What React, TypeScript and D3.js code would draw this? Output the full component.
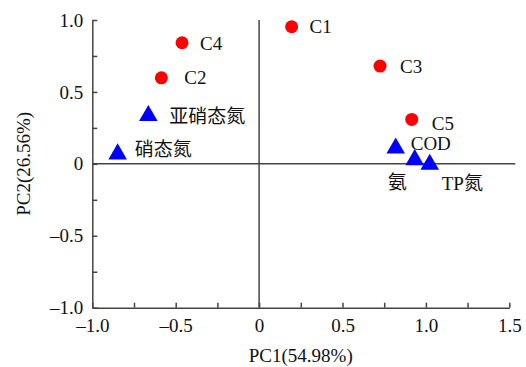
import React, { useEffect, useRef } from "react";
import * as d3 from "d3";

// sample scores (red circles)
const sampleNames = ["C1", "C2", "C3", "C4", "C5"];
const sampleX = [0.195, -0.586, 0.725, -0.462, 0.915];
const sampleY = [0.953, 0.598, 0.68, 0.842, 0.309];

// variable loadings (blue triangles)
const varNames = ["亚硝态氮", "硝态氮", "COD", "氨", "TP氮"];
const varX = [-0.664, -0.848, 0.819, 0.933, 1.023];
const varY = [0.335, 0.068, 0.109, 0.028, -0.004];

const xTicks = [-1, -0.75, -0.5, -0.25, 0, 0.25, 0.5, 0.75, 1, 1.25, 1.5];
const yTicks = [-1, -0.75, -0.5, -0.25, 0, 0.25, 0.5, 0.75, 1];
const xTitle = "PC1(54.98%)";
const yTitle = "PC2(26.56%)";

// label offsets in px from the marker centre
const sampleLabelOffset: Record<string, [number, number]> = {
  C1: [18, 6],
  C2: [23, 6],
  C3: [20, 7],
  C4: [18, 7],
  C5: [20, 11],
};
const varLabelOffset: Record<string, [number, number]> = {
  亚硝态氮: [21, 7],
  硝态氮: [17, 2],
  COD: [15, 2],
  氨: [-27, 29],
  TP氮: [12, 26],
};

const W = 526;
const H = 367;
const margin = { top: 20, right: 16.7, bottom: 59.3, left: 92.3 };
const FONT = "Liberation Serif, Noto Sans CJK SC, serif";
const AXIS = "#444";

function fmt(v: number) {
  if (Math.abs(v * 2 - Math.round(v * 2)) > 1e-9) return "";
  if (v === 0) return "0";
  return (v < 0 ? "–" : "") + Math.abs(v).toFixed(1);
}

export default function App() {
  const xRef = useRef<SVGGElement>(null);
  const yRef = useRef<SVGGElement>(null);

  const iw = W - margin.left - margin.right;
  const ih = H - margin.top - margin.bottom;
  const x = d3.scaleLinear().domain([-1, 1.5]).range([0, iw]);
  const y = d3.scaleLinear().domain([-1, 1]).range([ih, 0]);

  useEffect(() => {
    const xa = d3.axisBottom(x).tickValues(xTicks).tickFormat((d) => fmt(+d))
      .tickSizeInner(-5).tickSizeOuter(0).tickPadding(11);
    const ya = d3.axisLeft(y).tickValues(yTicks).tickFormat((d) => fmt(+d))
      .tickSizeInner(-5).tickSizeOuter(0).tickPadding(9);
    for (const [ref, ax] of [[xRef, xa], [yRef, ya]] as const) {
      const g = d3.select(ref.current!);
      g.call(ax as any);
      g.selectAll("path, line").attr("stroke", AXIS).attr("stroke-width", 1.5);
      g.selectAll("text").attr("font-size", 19).attr("font-family", FONT).attr("fill", "#111");
    }
  }, []);

  const tri = d3.symbol().type(d3.symbolTriangle).size(150)();

  return (
    <svg width={W} height={H} style={{ position: "absolute", left: 0, top: 0, background: "#fff" }}>
      <g transform={`translate(${margin.left},${margin.top})`} style={{ fontFamily: FONT, fontSize: 19 }}>
        {/* zero lines */}
        <line x1={0} x2={iw + 6} y1={y(0)} y2={y(0)} stroke={AXIS} strokeWidth={1.5} />
        <line x1={x(0)} x2={x(0)} y1={0} y2={ih} stroke={AXIS} strokeWidth={1.5} />
        <g ref={xRef} transform={`translate(0,${ih})`} />
        <g ref={yRef} />

        {sampleNames.map((n, i) => (
          <g key={n}>
            <circle cx={x(sampleX[i])} cy={y(sampleY[i])} r={6.5} fill="#ff0000" />
            <text x={x(sampleX[i]) + sampleLabelOffset[n][0]} y={y(sampleY[i]) + sampleLabelOffset[n][1]} fill="#111">
              {n}
            </text>
          </g>
        ))}
        {varNames.map((n, i) => (
          <g key={n}>
            <path d={tri!} transform={`translate(${x(varX[i])},${y(varY[i])})`} fill="#0000ff" />
            <text x={x(varX[i]) + varLabelOffset[n][0]} y={y(varY[i]) + varLabelOffset[n][1]} fill="#111">
              {n}
            </text>
          </g>
        ))}

        <text x={iw / 2} y={ih + 54} textAnchor="middle" fill="#111">{xTitle}</text>
        <text transform={`translate(${-92.3 + 30},${ih / 2}) rotate(-90)`} textAnchor="middle" fill="#111">
          {yTitle}
        </text>
      </g>
    </svg>
  );
}
